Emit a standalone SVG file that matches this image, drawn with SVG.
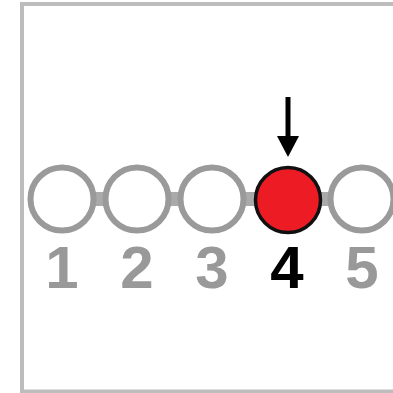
<svg xmlns="http://www.w3.org/2000/svg" width="393" height="393" viewBox="0 0 393 393">
<style>
.ring{fill:#fff;stroke:#9a9a9a;stroke-width:6}
.num{font-family:"Liberation Sans",Arial,sans-serif;font-weight:bold;font-size:60px;text-anchor:middle;fill:#999}
</style>
<rect width="393" height="393" fill="#fff"/>
<path d="M395 4 H22 V391.5 H395" fill="none" stroke="#bdbdbd" stroke-width="4"/>
<g id="connectors">
<line x1="62" y1="199" x2="392" y2="199" stroke="#aaa" stroke-width="14"/>
<line x1="288" y1="97" x2="288" y2="138" stroke="#000" stroke-width="5"/>
<polygon points="277,136 299,136 288,157" fill="#000"/>
</g>
<g id="n1"><circle class="ring" cx="62" cy="199" r="31.5"/><text class="num" x="62" y="288">1</text></g>
<g id="n2"><circle class="ring" cx="137" cy="199" r="31.5"/><text class="num" x="137" y="288">2</text></g>
<g id="n3"><circle class="ring" cx="212" cy="199" r="31.5"/><text class="num" x="212" y="288">3</text></g>
<g id="n4"><circle cx="288" cy="200" r="32.5" fill="#ed1c24" stroke="#111" stroke-width="3.5"/><text class="num" x="287" y="288" style="fill:#000">4</text></g>
<g id="n5"><circle class="ring" cx="362" cy="199" r="31.5"/><text class="num" x="362" y="288">5</text></g>
</svg>
